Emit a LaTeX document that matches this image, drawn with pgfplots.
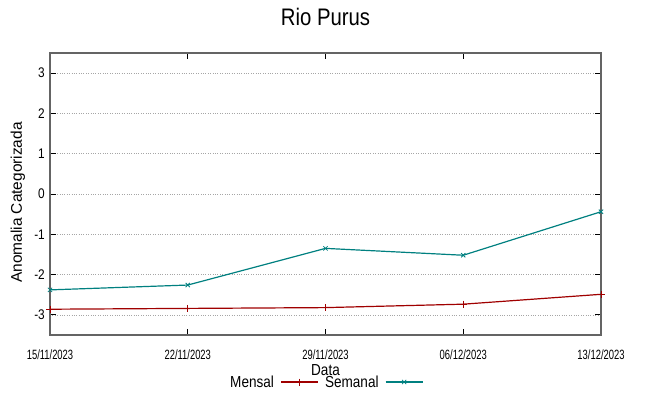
\documentclass[border=0pt]{standalone}
\usepackage{fontspec}
\setmainfont{Liberation Sans}[FakeStretch=0.85]
\newfontfamily\plainfont{Liberation Sans}
\newfontfamily\narrowfont{Liberation Sans}[FakeStretch=0.7]
\usepackage{pgfplots}
\pgfplotsset{compat=1.18}
\definecolor{mensal}{RGB}{160,0,0}
\definecolor{semanal}{RGB}{0,128,128}
\definecolor{axisgray}{RGB}{100,100,100}
\begin{document}
\begin{tikzpicture}
\useasboundingbox (-50bp,-61bp) rectangle (599bp,335bp);
\begin{axis}[
  at={(0,0)}, anchor=south west,
  scale only axis, width=551bp, height=282bp,
  xmin=0, xmax=28, ymin=-3.5, ymax=3.5,
  xtick={0,7,14,21,28},
  xticklabels={15/11/2023,22/11/2023,29/11/2023,06/12/2023,13/12/2023},
  ytick={-3,-2,-1,0,1,2,3},
  yticklabels={-3,-2,-1,0,1,2,3},
  tick align=inside, tick pos=both,
  major tick length=6bp,
  axis line style={axisgray, line width=1.2bp},
  tick style={black, line width=0.8bp},
  ymajorgrids, major grid style={dotted, gray!70, line width=0.7bp},
  xticklabel style={font=\narrowfont\fontsize{13.5}{15}\selectfont, anchor=center, yshift=-20bp},
  yticklabel style={font=\fontsize{14}{15}\selectfont, anchor=east, inner sep=0pt, xshift=-5bp},
  title={Rio Purus},
  title style={at={(axis description cs:0.5,1)}, anchor=center, yshift=30bp, font=\fontsize{24}{28}\selectfont},
  xlabel={Data},
  xlabel style={at={(axis description cs:0.5,0)}, anchor=center, yshift=-35bp, font=\fontsize{16}{18}\selectfont},
  ylabel={Anomalia Categorizada},
  ylabel style={at={([xshift=-32bp]axis description cs:0,0.47)}, anchor=center, font=\plainfont\fontsize{15.5}{17}\selectfont},
  legend columns=2,
  legend plot pos=right,
  legend style={at={([yshift=-47bp,xshift=0bp]axis description cs:0.5,0)}, anchor=center, draw=none, fill=none, inner sep=0pt, font=\fontsize{16}{18}\selectfont, column sep=4bp, nodes={inner sep=2.5bp}},
  legend image code/.code={\draw[mark repeat=2,mark phase=2] plot coordinates {(0bp,0bp) (18.5bp,0bp) (37bp,0bp)};},
]
\addplot[mensal, line width=1.2bp, mark=+, mark size=3.5bp, mark options={solid, line width=0.8bp}]
  coordinates {(0,-2.86) (7,-2.84) (14,-2.82) (21,-2.735) (28,-2.49)};
\addlegendentry{Mensal}
\addplot[semanal, line width=1.2bp, mark=x, mark size=3bp, mark options={solid, line width=0.8bp}]
  coordinates {(0,-2.38) (7,-2.26) (14,-1.35) (21,-1.52) (28,-0.44)};
\addlegendentry{Semanal}
\end{axis}
\end{tikzpicture}
\end{document}
